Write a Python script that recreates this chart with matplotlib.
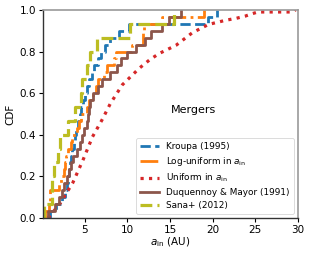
import matplotlib
matplotlib.use("Agg")
import matplotlib.pyplot as plt
import numpy as np

# ---- data ----
# Sana+ (2012): 15 mergers
sana_x = [0.25, 1.15, 1.2, 1.4, 1.85, 2.1, 3.0, 3.8, 4.6, 4.7, 5.2, 5.6, 6.4, 10.3, 15.5]
# Kroupa (1995): 30 mergers
kroupa_x = [0.9, 1.6, 2.3, 2.7, 2.9, 3.0, 3.15, 3.3, 3.4, 3.55, 3.7, 3.8, 4.0, 4.2, 4.4,
            4.6, 4.8, 5.0, 5.25, 5.5, 5.8, 6.1, 6.5, 6.9, 7.4, 8.0, 9.0, 10.2, 19.5, 20.5]
# Log-uniform in a_in: 30 mergers
logu_x = [0.35, 0.85, 0.9, 0.95, 2.0, 2.2, 2.6, 2.7, 2.75, 3.0, 3.4, 3.5, 4.1, 4.3, 4.6,
          5.2, 5.5, 6.0, 6.3, 6.6, 7.2, 7.6, 8.4, 8.6, 10.5, 11.8, 11.85, 11.9, 14.0, 19.0]
# Duquennoy & Mayor (1991): 30 mergers
dm_x = [0.7, 1.5, 2.0, 2.3, 2.6, 2.9, 3.1, 3.4, 3.6, 4.1, 4.4, 4.65, 4.9, 5.2, 5.4,
        5.5, 5.6, 6.0, 6.5, 7.0, 7.9, 8.8, 9.3, 9.9, 11.0, 12.0, 12.8, 14.0, 14.9, 16.3]
# Uniform in a_in (dense, drawn as a curve)
unif_x = [0.7, 2.1, 3.6, 4.8, 5.9, 7.0, 8.0, 9.4, 11.4, 12.6, 13.7, 15.7, 17.6, 19.5,
          21.5, 22.8, 23.8, 24.5, 25.3, 29.4, 29.7]
unif_y = [0.0, 0.07, 0.17, 0.28, 0.39, 0.47, 0.55, 0.64, 0.72, 0.76, 0.79, 0.83, 0.89,
          0.93, 0.95, 0.96, 0.97, 0.98, 0.99, 0.99, 1.0]

labels = ["Kroupa (1995)", r"Log-uniform in $a_{\rm in}$", r"Uniform in $a_{\rm in}$",
          "Duquennoy & Mayor (1991)", "Sana+ (2012)"]
xticks = [5, 10, 15, 20, 25, 30]
yticks = [0.0, 0.2, 0.4, 0.6, 0.8, 1.0]


def ecdf(xs):
    xs = np.sort(np.asarray(xs, float))
    n = len(xs)
    x = np.concatenate([[xs[0]], xs])
    y = np.concatenate([[0.0], np.arange(1, n + 1) / n])
    return x, y


fig = plt.figure(figsize=(3.12, 2.54), dpi=100)
ax = fig.add_axes([0.138, 0.142, 0.817, 0.819])

lw = 2.0
x, y = ecdf(kroupa_x)
ax.step(x, y, where="post", color="#1f77b4", ls="--", lw=lw, label=labels[0])
x, y = ecdf(logu_x)
ax.step(x, y, where="post", color="#ff7f0e", ls="-.", lw=lw, label=labels[1])
ax.plot(unif_x, unif_y, color="#d62728", ls=":", lw=lw + 0.3, label=labels[2])
x, y = ecdf(dm_x)
ax.step(x, y, where="post", color="#8c564b", ls="-", lw=lw, label=labels[3])
x, y = ecdf(sana_x)
ax.step(x, y, where="post", color="#bcbd22", ls="--", lw=lw + 0.3, label=labels[4])

ax.set_xlim(0.1, 30)
ax.set_ylim(0, 1.0)
ax.set_xticks(xticks)
ax.set_yticks(yticks)
ax.tick_params(labelsize=7.5, length=3, width=0.8, pad=2)
for s in ["left", "bottom"]:
    ax.spines[s].set_color("#333333")
    ax.spines[s].set_linewidth(1.0)
for s in ["top", "right"]:
    ax.spines[s].set_color("#999999")
    ax.spines[s].set_linewidth(1.2)

ax.set_xlabel(r"$a_{\rm in}$ (AU)", fontsize=7.5, labelpad=0.5)
ax.set_ylabel("CDF", fontsize=7.5, labelpad=3)
ax.text(17.8, 0.52, "Mergers", fontsize=8, ha="center", va="center")

leg = ax.legend(loc="lower right", fontsize=6.4, handlelength=2.15, borderaxespad=0.45,
                labelspacing=0.42, handletextpad=0.8, borderpad=0.45)
leg.get_frame().set_linewidth(0.6)

fig.savefig("out.png", dpi=100)
